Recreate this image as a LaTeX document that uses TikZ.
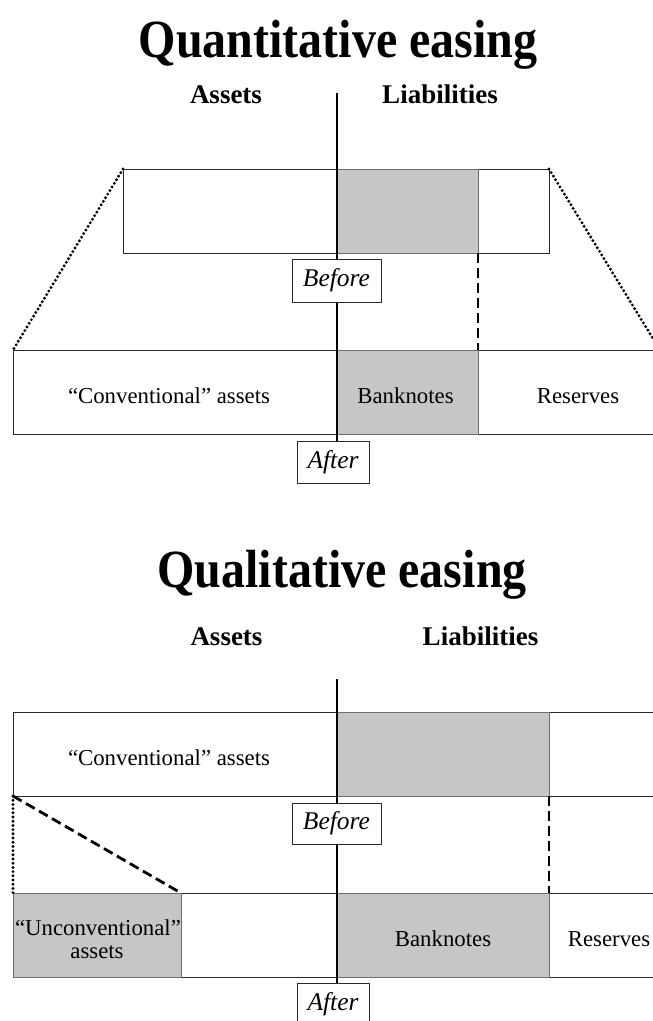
\documentclass[tikz,border=0pt]{standalone}
\usepackage{fontspec}
\setmainfont{Liberation Serif}
\definecolor{shade}{RGB}{198,198,198}
\definecolor{edge}{RGB}{40,40,40}
\definecolor{softedge}{RGB}{110,110,110}
\begin{document}
\begin{tikzpicture}[x=1pt,y=-1pt,
  cell/.style={draw=edge,line width=1pt,inner sep=0pt,outer sep=0pt,anchor=north west},
  shadecell/.style={cell,fill=shade,draw=softedge},
  tag/.style={draw=edge,line width=1pt,fill=white,inner sep=0pt,outer sep=0pt,
    font=\fontsize{25.5}{28}\selectfont\itshape},
  axis/.style={line width=2.8pt,black},
  dotline/.style={line width=3.2pt,line cap=round,dash pattern=on 0pt off 4.2pt,black},
  dashline/.style={line width=2.8pt,dash pattern=on 10pt off 5pt,black},
  title/.style={anchor=base,font=\fontsize{48}{54}\selectfont\bfseries},
  head/.style={anchor=base,font=\fontsize{27}{30}\selectfont\bfseries},
  body/.style={anchor=base,font=\fontsize{22.8}{24}\selectfont}
]
\useasboundingbox (0,0) rectangle (653,1021);
\clip (0,0) rectangle (653,1021);
\fill[white] (0,0) rectangle (653,1021);

% ---------------- Quantitative easing ----------------
\node[title] (qtitle) at (338,57) {\scalebox{1}[1.12]{Quantitative easing}};
\node[head] (qassets) at (226,103) {Assets};
\node[head] (qliab) at (440,103) {Liabilities};

\node[cell,minimum width=426pt,minimum height=84pt] (qtop) at (123,169) {};
\node[shadecell,minimum width=141pt,minimum height=84pt] (qtopbn) at (337,169) {};
\node[cell,minimum width=647pt,minimum height=84pt] (qbot) at (13,350) {};
\node[shadecell,minimum width=141pt,minimum height=84pt] (qbotbn) at (337,350) {};

\node[body] (qconv) at (169,403) {“Conventional” assets};
\node[body] (qbank) at (405.5,403) {Banknotes};
\node[body] (qres) at (578,403) {Reserves};

\coordinate (qaxtop) at (337,93);
\node[tag,minimum width=72pt,minimum height=42pt] (qafter) at (333,462) {After};
\draw[axis] (qaxtop) -- (qaxtop |- qafter.north);
\node[tag,minimum width=89pt,minimum height=43pt] (qbefore) at (336.5,280.5) {Before};

\draw[dotline] (qtop.north west) -- (qbot.north west);
\draw[dotline] (qtop.north east) -- (qbot.north east);
\draw[dashline] (qtopbn.south east) -- (qbotbn.north east);

% ---------------- Qualitative easing ----------------
\node[title] (ltitle) at (342,587) {\scalebox{1}[1.12]{Qualitative easing}};
\node[head] (lassets) at (226.5,645) {Assets};
\node[head] (lliab) at (480.5,645) {Liabilities};

\node[cell,minimum width=647pt,minimum height=84pt] (ltop) at (13,712) {};
\node[shadecell,minimum width=212pt,minimum height=84pt] (ltopbn) at (337,712) {};
\node[cell,minimum width=647pt,minimum height=84pt] (lbot) at (13,893) {};
\node[shadecell,minimum width=168pt,minimum height=84pt] (lbotun) at (13,893) {};
\node[shadecell,minimum width=212pt,minimum height=84pt] (lbotbn) at (337,893) {};

\node[body] (lconv) at (169,765) {“Conventional” assets};
\node[body] (lunc1) at (98,935) {“Unconventional”};
\node[body] (lunc2) at (97,958) {assets};
\node[body] (lbank) at (443,946) {Banknotes};
\node[body] (lres) at (609,946) {Reserves};

\coordinate (laxtop) at (337,679);
\node[tag,minimum width=72pt,minimum height=42pt] (lafter) at (333,1004) {After};
\draw[axis] (laxtop) -- (laxtop |- lafter.north);
\node[tag,minimum width=89pt,minimum height=41pt] (lbefore) at (336.5,823.5) {Before};

\draw[dotline] (ltop.south west) -- (lbot.north west);
\draw[dashline] (ltop.south west) -- (lbotun.north east);
\draw[dashline] (ltopbn.south east) -- (lbotbn.north east);
\end{tikzpicture}
\end{document}
